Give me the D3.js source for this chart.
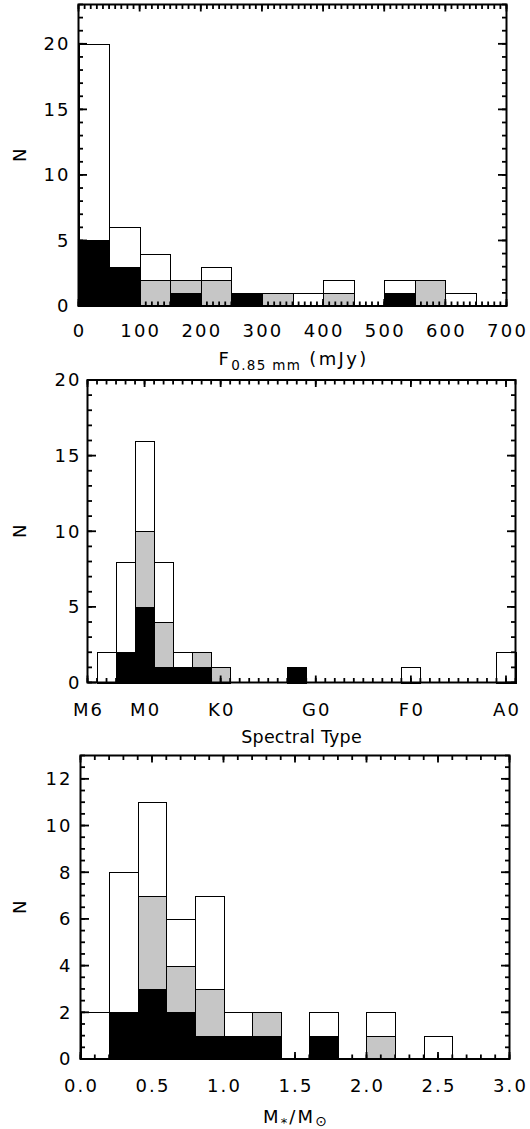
<!DOCTYPE html>
<html><head><meta charset="utf-8">
<script src="https://cdn.jsdelivr.net/npm/d3@7"></script>
<style>
body{margin:0;background:#fff;}
svg{display:block;}
text{font-family:'DejaVu Sans',sans-serif;fill:#000;}
</style></head><body>
<script>
// ---------- Panel 1: 0.85 mm flux ----------
const fluxBinStarts = [0, 50, 100, 150, 200, 250, 300, 350, 400, 450, 500, 550, 600, 650];
const fluxTotal = [20, 6, 4, 2, 3, 1, 1, 1, 2, 0, 2, 2, 1, 0];
const fluxGray  = [5, 3, 2, 2, 2, 1, 1, 0, 1, 0, 1, 2, 0, 0];
const fluxBlack = [5, 3, 0, 1, 0, 1, 0, 0, 0, 0, 1, 0, 0, 0];
const fluxTicks = [0, 100, 200, 300, 400, 500, 600, 700];
const fluxYTicks = [0, 5, 10, 15, 20];

// ---------- Panel 2: spectral type (subtype index, M6 = 0) ----------
const specBinStarts = [1, 3, 5, 7, 9, 11, 13, 15, 17, 19, 21, 23, 25, 27, 29, 31, 33, 35, 37, 39, 41, 43];
const specTotal = [2, 8, 16, 8, 2, 2, 1, 0, 0, 0, 1, 0, 0, 0, 0, 0, 1, 0, 0, 0, 0, 2];
const specGray  = [0, 2, 10, 4, 1, 2, 1, 0, 0, 0, 1, 0, 0, 0, 0, 0, 0, 0, 0, 0, 0, 0];
const specBlack = [0, 2, 5, 1, 1, 1, 0, 0, 0, 0, 1, 0, 0, 0, 0, 0, 0, 0, 0, 0, 0, 0];
const specTickValues = [0, 6, 14, 24, 34, 44];
const specTickLabels = ["M6", "M0", "K0", "G0", "F0", "A0"];
const specYTicks = [0, 5, 10, 15, 20];

// ---------- Panel 3: stellar mass ----------
const massBinStarts = [0.0, 0.2, 0.4, 0.6, 0.8, 1.0, 1.2, 1.4, 1.6, 1.8, 2.0, 2.2, 2.4, 2.6, 2.8];
const massTotal = [2, 8, 11, 6, 7, 2, 2, 0, 2, 0, 2, 0, 1, 0, 0];
const massGray  = [0, 2, 7, 4, 3, 1, 2, 0, 1, 0, 1, 0, 0, 0, 0];
const massBlack = [0, 2, 3, 2, 1, 1, 1, 0, 1, 0, 0, 0, 0, 0, 0];
const massTicks = [0.0, 0.5, 1.0, 1.5, 2.0, 2.5, 3.0];
const massYTicks = [0, 2, 4, 6, 8, 10, 12];

const FS = 18, LS = 2.2;
const svg = d3.select("body").append("svg").attr("width", 530).attr("height", 1129);

function panel(o) {
  const g = svg.append("g");
  const x = d3.scaleLinear().domain(o.xDomain).range([o.left, o.right]);
  const y = d3.scaleLinear().domain(o.yDomain).range([o.bottom, o.top]);

  const layers = [
    {v: o.total, fill: "#ffffff"},
    {v: o.gray, fill: "#c6c6c6"},
    {v: o.black, fill: "#000000"}
  ];
  layers.forEach(L => {
    g.append("g").selectAll("rect")
      .data(o.starts.map((s, i) => ({s, v: L.v[i]})).filter(d => d.v > 0))
      .join("rect")
      .attr("x", d => Math.round(x(d.s)) + 0.5)
      .attr("width", d => Math.round(x(d.s + o.bw)) - Math.round(x(d.s)))
      .attr("y", d => Math.round(y(d.v)) + 0.5)
      .attr("height", d => Math.round(y(0)) - Math.round(y(d.v)))
      .attr("fill", L.fill).attr("stroke", "#000").attr("stroke-width", 1);
  });

  const xMaj = 7, xMin = 4.5, yMaj = 8.5, yMin = 4.5;
  const tg = g.append("g").attr("stroke", "#000").attr("stroke-width", 1.8);
  const xt = o.xMinor.map(v => ({v, len: xMin})).concat(o.xTicks.map(v => ({v, len: xMaj})));
  tg.append("g").selectAll("line").data(xt).join("line")
    .attr("x1", d => x(d.v)).attr("x2", d => x(d.v))
    .attr("y1", o.bottom).attr("y2", d => o.bottom - d.len);
  tg.append("g").selectAll("line").data(xt).join("line")
    .attr("x1", d => x(d.v)).attr("x2", d => x(d.v))
    .attr("y1", o.top).attr("y2", d => o.top + d.len);
  const yt = o.yMinor.map(v => ({v, len: yMin})).concat(o.yTicks.map(v => ({v, len: yMaj})));
  tg.append("g").selectAll("line").data(yt).join("line")
    .attr("y1", d => y(d.v)).attr("y2", d => y(d.v))
    .attr("x1", o.left).attr("x2", d => o.left + d.len);
  tg.append("g").selectAll("line").data(yt).join("line")
    .attr("y1", d => y(d.v)).attr("y2", d => y(d.v))
    .attr("x1", o.right).attr("x2", d => o.right - d.len);

  g.append("g").selectAll("text").data(o.xTicks).join("text")
    .attr("x", d => x(d) + LS / 2).attr("y", o.bottom + o.xLabelOff)
    .attr("text-anchor", "middle").style("font-size", FS + "px").style("letter-spacing", LS + "px")
    .text((d, i) => o.xFmt(d, i));
  g.append("g").selectAll("text").data(o.yTicks).join("text")
    .attr("x", o.left - o.yPad + LS).attr("y", d => y(d)).attr("dy", "0.36em")
    .attr("text-anchor", "end").style("font-size", FS + "px").style("letter-spacing", LS + "px")
    .text(d => d3.format("d")(d));

  g.append("rect").attr("x", o.left).attr("y", o.top)
    .attr("width", o.right - o.left).attr("height", o.bottom - o.top)
    .attr("fill", "none").attr("stroke", "#000").attr("stroke-width", 2);

  g.append("text").attr("transform", `translate(26,${(o.top + o.bottom) / 2}) rotate(-90)`)
    .attr("text-anchor", "middle").style("font-size", FS + "px").text("N");

  const t = g.append("text").attr("x", (o.left + o.right) / 2 + o.titleLS / 2).attr("y", o.titleY)
    .attr("text-anchor", "middle").style("font-size", o.titleFS + "px").style("letter-spacing", o.titleLS + "px");
  o.title(t);
  return {x, y};
}

panel({
  left: 78.5, right: 506.5, top: 4.5, bottom: 306,
  xDomain: [0, 700], yDomain: [0, 23],
  starts: fluxBinStarts, bw: 50, total: fluxTotal, gray: fluxGray, black: fluxBlack,
  xTicks: fluxTicks, xMinor: d3.range(0, 701, 10), xFmt: d3.format("d"), xLabelOff: 31,
  yTicks: fluxYTicks, yMinor: d3.range(0, 24, 1), yPad: 10,
  titleY: 365, titleFS: 18, titleLS: 2.4,
  title: t => {
    t.append("tspan").text("F");
    t.append("tspan").attr("dy", 5).style("font-size", "13.5px").style("letter-spacing", "1.3px").text("0.85 mm");
    t.append("tspan").attr("dy", -5).text(" (mJy)");
  }
});

panel({
  left: 87.5, right: 515.5, top: 380, bottom: 682.5,
  xDomain: [0, 45], yDomain: [0, 20],
  starts: specBinStarts, bw: 2, total: specTotal, gray: specGray, black: specBlack,
  xTicks: specTickValues, xMinor: d3.range(0, 46, 1),
  xFmt: (d, i) => specTickLabels[i], xLabelOff: 33,
  yTicks: specYTicks, yMinor: d3.range(0, 21, 1), yPad: 8,
  titleY: 743, titleFS: 17.5, titleLS: 0.2,
  title: t => { t.text("Spectral Type"); }
});

panel({
  left: 80.5, right: 509.5, top: 755.5, bottom: 1059,
  xDomain: [0, 3], yDomain: [0, 13],
  starts: massBinStarts, bw: 0.2, total: massTotal, gray: massGray, black: massBlack,
  xTicks: massTicks, xMinor: d3.range(0, 3.001, 0.1), xFmt: d3.format(".1f"), xLabelOff: 33,
  yTicks: massYTicks, yMinor: d3.range(0, 13.001, 0.5), yPad: 10,
  titleY: 1123, titleFS: 18, titleLS: 2.2,
  title: t => {
    t.append("tspan").text("M");
    t.append("tspan").attr("dy", 4).style("font-size", "13px").text("*");
    t.append("tspan").attr("dy", -4).text("/M");
    t.append("tspan").attr("dy", 3).style("font-size", "14px").text("\u2299");
  }
});
</script>
</body></html>
